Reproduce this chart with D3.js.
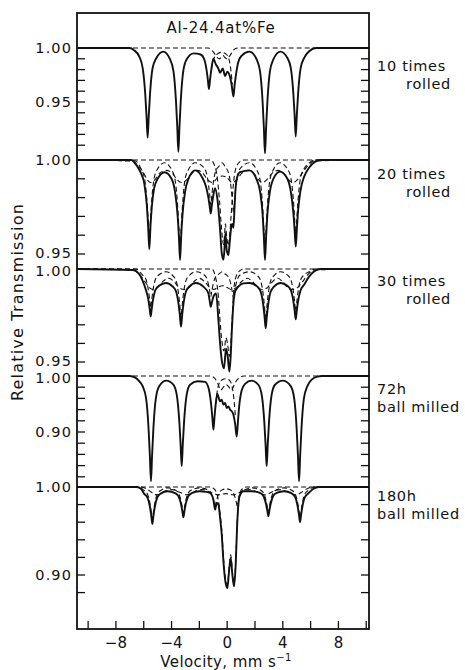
<!DOCTYPE html>
<html>
<head>
<meta charset="utf-8">
<script src="https://cdn.jsdelivr.net/npm/d3@7/dist/d3.min.js"></script>
<style>
body{margin:0;background:#fff;}
text{font-family:"DejaVu Sans",sans-serif;fill:#111;font-size:15px;}
.ylab{font-size:14.5px;letter-spacing:1.1px;}
.name{font-size:14.5px;letter-spacing:0.7px;}
.solid{fill:none;stroke:#111;stroke-width:1.9;stroke-linejoin:round;}
.dash{fill:none;stroke:#111;stroke-width:1.1;stroke-dasharray:5,3;}
.frame{fill:none;stroke:#111;stroke-width:1.8;}
.tick{stroke:#111;stroke-width:1.3;}
</style>
</head>
<body>
<div id="graph"></div>
<script>
// ---- data ----
var title = "Al-24.4at%Fe";
var velTicks = [-10,-8,-6,-4,-2,0,2,4,6,8,10];
var velLabels = [-8,-4,0,4,8];
var sampleNames = [["10 times","rolled"],["20 times","rolled"],["30 times","rolled"],["72h","ball milled"],["180h","ball milled"]];
var yTicks = [
  [1.00,.99,.98,.97,.96,.95,.94,.93,.92,.91],
  [1.00,.99,.98,.97,.96,.95],
  [1.00,.99,.98,.97,.96,.95],
  [1.00,.98,.96,.94,.92,.90,.88,.86,.84,.82],
  [1.00,.98,.96,.94,.92,.90,.88]
];
var yLabels = [[1.00,.95],[1.00,.95],[1.00,.95],[1.00,.90],[1.00,.90]];

// spectra: [velocity mm/s, relative transmission]
var rolled10 = [[-10.8,1],[-7.0,1],[-6.7,.998],[-6.32,.992],[-6.07,.981],[-5.89,.957],[-5.80,.937],[-5.72,.917],[-5.64,.937],[-5.55,.957],[-5.37,.981],[-5.12,.990],[-4.6,.9966],[-4.11,.9896],[-3.86,.9784],[-3.68,.9505],[-3.59,.9273],[-3.51,.904],[-3.43,.9273],[-3.34,.9505],[-3.16,.9784],[-2.91,.9896],[-2.4,.995],[-1.91,.994],[-1.66,.990],[-1.48,.9795],[-1.39,.9708],[-1.31,.962],[-1.23,.971],[-1.14,.980],[-0.99,.990],[-0.82,.985],[-0.63,.981],[-0.51,.977],[-0.32,.981],[-0.15,.974],[0.01,.978],[0.21,.973],[0.32,.966],[0.45,.955],[0.53,.965],[0.62,.974],[0.80,.987],[1.05,.993],[1.6,.9966],[2.12,.9894],[2.37,.978],[2.55,.9498],[2.64,.926],[2.72,.9025],[2.80,.926],[2.89,.9498],[3.07,.978],[3.32,.9894],[3.83,.9966],[4.33,.9907],[4.58,.9812],[4.76,.9575],[4.85,.9378],[4.93,.918],[5.01,.9378],[5.10,.9575],[5.28,.9812],[5.53,.9907],[5.9,.997],[6.4,1],[10.2,1]];
var rolled10Doublet = [[-10.8,1],[-1.35,1],[-1.05,.997],[-0.8,.993],[-0.6,.990],[-0.45,.991],[-0.3,.993],[-0.15,.991],[0.0,.990],[0.2,.993],[0.45,.998],[0.75,1],[10.2,1]];
var rolled10Sextet = [[-1.14,.980],[-0.95,.9905],[-0.7,.9945],[-0.4,.996],[-0.1,.9945],[0.12,.990],[0.28,.978],[0.37,.966]];

var rolled20 = [[-10.8,1],[-6.9,1],[-6.5,.997],[-6.2,.993],[-5.95,.987],[-5.78,.976],[-5.68,.964],[-5.60,.9525],[-5.52,.964],[-5.42,.975],[-5.25,.985],[-5.0,.990],[-4.5,.9935],[-4.0,.990],[-3.75,.983],[-3.57,.971],[-3.47,.959],[-3.39,.9468],[-3.31,.959],[-3.21,.971],[-3.03,.983],[-2.78,.990],[-2.3,.9945],[-1.78,.9905],[-1.53,.986],[-1.35,.980],[-1.26,.9755],[-1.18,.9716],[-1.10,.976],[-1.0,.981],[-0.87,.985],[-0.7,.979],[-0.51,.963],[-0.39,.9505],[-0.27,.947],[-0.2,.952],[-0.13,.961],[-0.03,.952],[0.09,.9495],[0.18,.956],[0.28,.9637],[0.37,.966],[0.45,.964],[0.52,.973],[0.58,.982],[0.69,.990],[0.93,.9935],[1.6,.9945],[2.1,.990],[2.37,.983],[2.55,.971],[2.64,.959],[2.72,.9468],[2.80,.959],[2.89,.971],[3.07,.983],[3.32,.990],[3.8,.9938],[4.33,.990],[4.58,.983],[4.76,.972],[4.85,.963],[4.93,.9539],[5.01,.963],[5.10,.973],[5.28,.984],[5.53,.991],[5.9,.996],[6.3,.999],[6.7,1],[10.2,1]];
var rolled20Doublet = [[-10.8,1],[-1.2,1],[-0.9,.997],[-0.7,.99],[-0.55,.978],[-0.42,.965],[-0.33,.958],[-0.27,.955],[-0.2,.959],[-0.13,.966],[-0.03,.959],[0.09,.9545],[0.17,.959],[0.28,.97],[0.42,.985],[0.6,.995],[0.9,.999],[1.2,1],[10.2,1]];
var rolled20SextetA = [[-10.8,1],[-6.6,.9995],[-6.2,.9953],[-5.95,.9904],[-5.77,.9783],[-5.68,.9681],[-5.60,.958],[-5.52,.9681],[-5.43,.9783],[-5.25,.9904],[-5.0,.9953],[-4.5,.9985],[-3.99,.9948],[-3.74,.9892],[-3.56,.9753],[-3.47,.9636],[-3.39,.952],[-3.31,.9636],[-3.22,.9753],[-3.04,.9892],[-2.79,.9948],[-2.3,.9985],[-1.78,.9967],[-1.53,.994],[-1.35,.9873],[-1.26,.9816],[-1.18,.976],[-1.10,.9816],[-1.01,.9873],[-0.83,.994],[-0.58,.9967],[-0.35,.9985],[-0.15,.9964],[0.10,.9932],[0.28,.9853],[0.37,.9786],[0.45,.972],[0.53,.9786],[0.62,.9853],[0.80,.9932],[1.05,.9964],[1.6,.9985],[2.12,.9948],[2.37,.9892],[2.55,.9753],[2.64,.9636],[2.72,.952],[2.80,.9636],[2.89,.9753],[3.07,.9892],[3.32,.9948],[3.8,.9985],[4.33,.9953],[4.58,.9906],[4.76,.9788],[4.85,.9689],[4.93,.959],[5.01,.9689],[5.10,.9788],[5.28,.9906],[5.53,.9953],[5.9,.9985],[6.3,1],[10.2,1]];
var rolled20SextetB = [[-10.8,1],[-6.9,.9995],[-6.4,.997],[-6.0,.993],[-5.75,.9895],[-5.5,.988],[-5.2,.9895],[-4.85,.993],[-4.4,.9945],[-3.95,.993],[-3.6,.9895],[-3.25,.988],[-2.9,.9895],[-2.5,.993],[-2.15,.9945],[-1.75,.993],[-1.4,.9895],[-1.05,.988],[-0.7,.9905],[-0.35,.9915],[0.0,.9905],[0.35,.988],[0.7,.9895],[1.05,.993],[1.5,.9945],[1.9,.993],[2.25,.9895],[2.55,.988],[2.85,.9895],[3.25,.993],[3.65,.9945],[4.05,.993],[4.4,.9895],[4.75,.988],[5.05,.9895],[5.4,.993],[5.8,.997],[6.3,.9995],[10.2,1]];

var rolled30 = [[-10.8,1],[-6.8,.9995],[-6.3,.997],[-6.1,.994],[-5.85,.9889],[-5.67,.9835],[-5.58,.9789],[-5.50,.9744],[-5.42,.9789],[-5.33,.9835],[-5.15,.9889],[-4.9,.991],[-4.4,.9925],[-3.92,.9906],[-3.67,.9878],[-3.49,.9808],[-3.40,.9749],[-3.32,.969],[-3.24,.9749],[-3.15,.9808],[-2.97,.9878],[-2.72,.9906],[-2.25,.9925],[-1.71,.9905],[-1.35,.9869],[-1.26,.983],[-1.18,.9797],[-1.1,.982],[-0.99,.9851],[-0.80,.9869],[-0.63,.9726],[-0.51,.960],[-0.39,.951],[-0.23,.9466],[-0.08,.9573],[0.04,.9529],[0.16,.9448],[0.25,.9529],[0.35,.969],[0.45,.9815],[0.57,.9878],[0.80,.9905],[1.16,.9923],[1.6,.9925],[2.17,.9905],[2.42,.9876],[2.60,.9803],[2.69,.9742],[2.77,.9681],[2.85,.9742],[2.94,.9803],[3.12,.9876],[3.37,.9905],[3.85,.9925],[4.33,.991],[4.58,.9886],[4.76,.9827],[4.85,.9778],[4.93,.9729],[5.01,.9778],[5.10,.9827],[5.28,.9886],[5.53,.9915],[5.9,.996],[6.3,.999],[6.7,1],[10.2,1]];
var rolled30Doublet = [[-10.8,1],[-1.1,1],[-0.85,.996],[-0.63,.985],[-0.51,.972],[-0.39,.962],[-0.23,.956],[-0.08,.963],[0.04,.959],[0.16,.953],[0.25,.959],[0.35,.972],[0.45,.986],[0.6,.995],[0.9,.999],[1.2,1],[10.2,1]];
var rolled30SextetA = [[-10.8,1],[-6.6,1],[-6.10,.9969],[-5.85,.9946],[-5.67,.9888],[-5.58,.9839],[-5.50,.979],[-5.42,.9839],[-5.33,.9888],[-5.15,.9946],[-4.9,.9969],[-4.4,.9985],[-3.92,.9965],[-3.67,.9936],[-3.49,.9863],[-3.40,.9801],[-3.32,.974],[-3.24,.9801],[-3.15,.9863],[-2.97,.9936],[-2.72,.9965],[-2.25,.9985],[-1.78,.9974],[-1.53,.9958],[-1.35,.9918],[-1.26,.9884],[-1.18,.985],[-1.10,.9884],[-1.01,.9918],[-0.83,.9958],[-0.58,.9974],[-0.35,.9985],[-0.15,.9973],[0.10,.9956],[0.28,.9913],[0.37,.9876],[0.45,.984],[0.53,.9876],[0.62,.9913],[0.80,.9956],[1.05,.9973],[1.6,.9985],[2.17,.9965],[2.42,.9934],[2.60,.9858],[2.69,.9794],[2.77,.973],[2.85,.9794],[2.94,.9858],[3.12,.9934],[3.37,.9965],[3.85,.9985],[4.33,.9968],[4.58,.9942],[4.76,.9878],[4.85,.9824],[4.93,.977],[5.01,.9824],[5.10,.9878],[5.28,.9942],[5.53,.9968],[5.9,.9985],[6.3,1],[10.2,1]];
var rolled30SextetB = [[-10.8,1],[-6.8,.9995],[-6.3,.997],[-5.9,.993],[-5.6,.990],[-5.3,.989],[-5.0,.990],[-4.6,.9935],[-4.2,.995],[-3.8,.993],[-3.45,.990],[-3.1,.989],[-2.75,.990],[-2.35,.9935],[-2.0,.995],[-1.6,.993],[-1.25,.990],[-0.95,.989],[-0.6,.9905],[-0.3,.991],[0.0,.990],[0.3,.989],[0.65,.990],[1.0,.993],[1.45,.995],[1.85,.993],[2.2,.990],[2.55,.989],[2.9,.990],[3.3,.9935],[3.65,.995],[4.0,.993],[4.35,.990],[4.7,.989],[5.05,.990],[5.4,.993],[5.8,.997],[6.3,.9995],[10.2,1]];

var milled72 = [[-10.8,1],[-7.0,1],[-6.6,.997],[-6.3,.99],[-6.08,.982],[-5.83,.96],[-5.65,.9045],[-5.56,.858],[-5.48,.812],[-5.40,.858],[-5.31,.9045],[-5.13,.96],[-4.88,.982],[-4.38,.9917],[-3.87,.9844],[-3.62,.9654],[-3.44,.918],[-3.35,.8785],[-3.27,.839],[-3.19,.8785],[-3.10,.918],[-2.92,.9654],[-2.67,.9844],[-2.13,.9905],[-1.59,.9896],[-1.34,.9784],[-1.16,.9505],[-1.07,.927],[-0.99,.904],[-0.91,.927],[-0.82,.9505],[-0.71,.9679],[-0.51,.9548],[-0.39,.9577],[-0.27,.9488],[-0.15,.9518],[-0.03,.9429],[0.09,.9458],[0.21,.9399],[0.33,.9369],[0.45,.931],[0.57,.915],[0.685,.892],[0.765,.915],[0.855,.9435],[1.035,.9735],[1.285,.986],[1.76,.9917],[2.24,.9844],[2.49,.9654],[2.67,.918],[2.76,.8785],[2.84,.839],[2.92,.8785],[3.01,.918],[3.19,.9654],[3.44,.9844],[4.0,.9917],[4.57,.982],[4.82,.96],[5.0,.9045],[5.09,.858],[5.17,.812],[5.25,.858],[5.34,.9045],[5.52,.96],[5.77,.982],[6.1,.994],[6.5,.999],[6.8,1],[10.2,1]];
var milled72Doublet = [[-10.8,1],[-1.2,1],[-0.9,.996],[-0.7,.988],[-0.55,.979],[-0.45,.975],[-0.3,.979],[-0.1,.985],[0.1,.981],[0.3,.975],[0.45,.981],[0.65,.991],[0.9,.997],[1.2,1],[10.2,1]];
var milled72Sextet = [[-0.82,.9505],[-0.7,.975],[-0.55,.988],[-0.35,.9935],[-0.1,.995],[0.15,.993],[0.35,.982],[0.5,.955],[0.6,.925]];

var milled180 = [[-10.8,1],[-6.5,1],[-6.2,.998],[-5.98,.9925],[-5.73,.988],[-5.55,.977],[-5.46,.9674],[-5.38,.958],[-5.30,.9674],[-5.21,.977],[-5.03,.988],[-4.78,.9925],[-4.27,.9951],[-3.75,.9931],[-3.5,.9895],[-3.32,.9805],[-3.23,.973],[-3.15,.9655],[-3.07,.973],[-2.98,.9805],[-2.8,.9895],[-2.55,.9931],[-2.0,.9951],[-1.5,.9945],[-1.23,.9932],[-0.99,.9856],[-0.87,.9742],[-0.75,.9818],[-0.63,.9799],[-0.51,.965],[-0.39,.9458],[-0.27,.9155],[-0.13,.8928],[0.014,.8852],[0.134,.9042],[0.254,.9193],[0.373,.9004],[0.493,.8871],[0.613,.9117],[0.709,.9534],[0.805,.9799],[0.925,.9913],[1.165,.9951],[1.8,.9951],[2.36,.9932],[2.61,.9897],[2.79,.981],[2.88,.9738],[2.96,.9667],[3.04,.9738],[3.13,.981],[3.31,.9897],[3.56,.9932],[4.1,.9951],[4.64,.9927],[4.89,.9884],[5.07,.9777],[5.16,.9688],[5.24,.9599],[5.32,.9688],[5.41,.9777],[5.59,.9884],[5.84,.9927],[6.2,.998],[6.6,1],[10.2,1]];
var milled180Doublet = [[-10.8,1],[-1.3,1],[-0.95,.998],[-0.7,.99],[-0.51,.97],[-0.39,.951],[-0.27,.921],[-0.13,.897],[0.014,.889],[0.134,.908],[0.254,.923],[0.373,.904],[0.493,.891],[0.613,.915],[0.709,.956],[0.85,.99],[1.1,.998],[1.4,1],[10.2,1]];
var milled180SextetA = [[-10.8,1],[-6.4,1],[-5.98,.9961],[-5.73,.9918],[-5.55,.981],[-5.46,.972],[-5.38,.963],[-5.30,.972],[-5.21,.981],[-5.03,.9918],[-4.78,.9961],[-4.27,.999],[-3.75,.9967],[-3.5,.9932],[-3.32,.9845],[-3.23,.9773],[-3.15,.970],[-3.07,.9773],[-2.98,.9845],[-2.8,.9932],[-2.55,.9967],[-2.0,.999],[-1.47,.9973],[-1.22,.9948],[-1.04,.9885],[-0.95,.9832],[-0.87,.978],[-0.79,.9832],[-0.70,.9885],[-0.52,.9948],[-0.27,.9973],[-0.07,.998],[0.13,.9973],[0.38,.9948],[0.56,.9885],[0.65,.9832],[0.73,.978],[0.81,.9832],[0.90,.9885],[1.08,.9948],[1.33,.9973],[1.8,.999],[2.36,.9968],[2.61,.9934],[2.79,.985],[2.88,.978],[2.96,.971],[3.04,.978],[3.13,.985],[3.31,.9934],[3.56,.9968],[4.1,.999],[4.64,.9963],[4.89,.9922],[5.07,.982],[5.16,.9735],[5.24,.965],[5.32,.9735],[5.41,.982],[5.59,.9922],[5.84,.9963],[6.3,1],[10.2,1]];
var milled180SextetB = [[-10.8,1],[-6.3,1],[-5.8,.998],[-5.45,.994],[-5.05,.991],[-4.65,.994],[-4.25,.9965],[-3.95,.997],[-3.6,.995],[-3.25,.993],[-2.9,.991],[-2.55,.993],[-2.15,.996],[-1.75,.997],[-1.35,.995],[-0.95,.9925],[-0.6,.991],[-0.1,.9925],[0.45,.991],[0.8,.993],[1.2,.996],[1.65,.997],[2.0,.9955],[2.35,.993],[2.7,.991],[3.05,.993],[3.45,.996],[3.85,.997],[4.25,.995],[4.6,.993],[4.95,.991],[5.35,.994],[5.75,.998],[6.2,1],[10.2,1]];

var solidCurves = [rolled10, rolled20, rolled30, milled72, milled180];
var dashedCurves = [
  [rolled10Doublet, rolled10Sextet],
  [rolled20Doublet, rolled20SextetA, rolled20SextetB],
  [rolled30Doublet, rolled30SextetA, rolled30SextetB],
  [milled72Doublet, milled72Sextet],
  [milled180Doublet, milled180SextetA, milled180SextetB]
];

// ---- layout ----
var width = 465, height = 670;
var plotL = 77, plotR = 369, plotT = 13, plotB = 629;
var panelBase = [48, 160, 269, 376, 487];   // y of 1.00 in each panel
var panelSpan = [108, 188, 186, 56, 88];     // pixels per 0.10
var labelShift = [[0,0],[0,-1.5],[1.5,-1.5],[1.5,0],[0,0]];
var nameDy = [[23,41],[19,37],[17,35],[18,36],[14,32]];
var nameAnchor2 = ["end","end","end","start","start"];

var svg = d3.select('#graph').append('svg').attr('width', width).attr('height', height);

svg.append('defs').append('clipPath').attr('id','plotclip')
  .append('rect').attr('x', plotL).attr('y', plotT).attr('width', plotR-plotL).attr('height', plotB-plotT);

var x = d3.scaleLinear().domain([-10.8, 10.2]).range([plotL, plotR]);
var ys = panelBase.map(function(b, i){
  return d3.scaleLinear().domain([1, 0.9]).range([b, b + panelSpan[i]]);
});
var fmt = d3.format('.2f');

var plot = svg.append('g').attr('clip-path', 'url(#plotclip)');

solidCurves.forEach(function(curve, i){
  var line = d3.line()
    .x(function(d){ return x(d[0]); })
    .y(function(d){ return ys[i](d[1]); })
    .curve(d3.curveMonotoneX);
  plot.selectAll('path.dash' + i).data(dashedCurves[i]).enter().append('path')
    .attr('class', 'dash dash' + i).attr('d', line);
  plot.append('path').datum(curve).attr('class', 'solid').attr('d', line);
});

// frame
svg.append('rect').attr('class', 'frame')
  .attr('x', plotL).attr('y', plotT).attr('width', plotR-plotL).attr('height', plotB-plotT);

// y ticks on both sides, and labels
yTicks.forEach(function(ticks, i){
  var g = svg.append('g');
  g.selectAll('line.l').data(ticks).enter().append('line').attr('class','tick l')
    .attr('x1', plotL).attr('x2', plotL + 8)
    .attr('y1', function(d){ return ys[i](d); }).attr('y2', function(d){ return ys[i](d); });
  g.selectAll('line.r').data(ticks).enter().append('line').attr('class','tick r')
    .attr('x1', plotR).attr('x2', plotR - 8)
    .attr('y1', function(d){ return ys[i](d); }).attr('y2', function(d){ return ys[i](d); });
  g.selectAll('text').data(yLabels[i]).enter().append('text').attr('class','ylab')
    .attr('x', plotL - 5)
    .attr('y', function(d, j){ return ys[i](d) + labelShift[i][j]; })
    .attr('dy', '.36em').attr('text-anchor', 'end')
    .text(function(d){ return fmt(d); });
});

// x ticks
svg.selectAll('line.xt').data(velTicks).enter().append('line').attr('class','tick xt')
  .attr('x1', function(d){ return x(d); }).attr('x2', function(d){ return x(d); })
  .attr('y1', plotB).attr('y2', plotB - 8);
svg.selectAll('text.xl').data(velLabels).enter().append('text').attr('class','xl')
  .attr('x', function(d){ return x(d); }).attr('y', 648)
  .attr('text-anchor', 'middle')
  .text(function(d){ return d3.format('d')(d); });

var xt = svg.append('text').attr('x', 226).attr('y', 667).attr('text-anchor', 'middle')
  .style('letter-spacing', '0.4px');
xt.append('tspan').text('Velocity, mm s');
xt.append('tspan').attr('dy', -6).style('font-size', '10px').text('\u22121');

svg.append('text').attr('transform', 'translate(23,302) rotate(-90)')
  .attr('text-anchor', 'middle').style('font-size', '16px').style('letter-spacing', '1.2px')
  .text('Relative Transmission');

svg.append('text').attr('x', 221).attr('y', 33).attr('text-anchor', 'middle')
  .style('letter-spacing', '0.8px').text(title);

// sample names on the right
sampleNames.forEach(function(nm, i){
  svg.append('text').attr('class','name').attr('x', 377).attr('y', panelBase[i] + nameDy[i][0]).text(nm[0]);
  svg.append('text').attr('class','name').attr('x', nameAnchor2[i] == 'end' ? 451 : 377)
    .attr('y', panelBase[i] + nameDy[i][1])
    .attr('text-anchor', nameAnchor2[i]).text(nm[1]);
});
</script>
</body>
</html>
